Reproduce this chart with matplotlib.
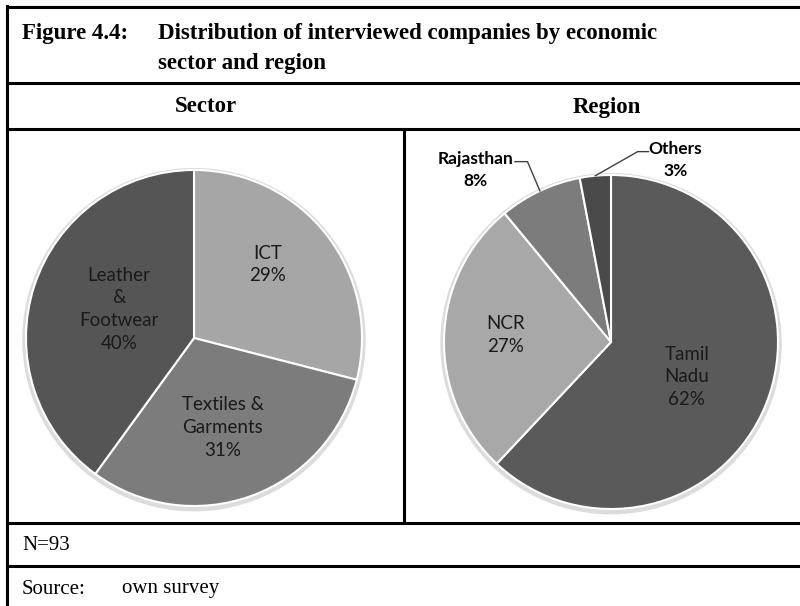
import numpy as np
import matplotlib
matplotlib.use("Agg")
import matplotlib.pyplot as plt


# =========================
# Data
# =========================

SECTOR_LABELS = ["ICT", "Textiles &\nGarments", "Leather\n&\nFootwear"]
SECTOR_SHARES = [29, 31, 40]
SECTOR_COLORS = ["#a6a6a6", "#7c7c7c", "#555555"]

REGION_LABELS = ["Tamil\nNadu", "NCR", "Rajasthan", "Others"]
REGION_SHARES = [62, 27, 8, 3]
REGION_COLORS = ["#5a5a5a", "#a8a8a8", "#7c7c7c", "#4a4a4a"]

N_TOTAL = 93

W, H = 800, 606
SERIF = "Liberation Serif"
LABEL_FONT = ["Lato", "DejaVu Sans"]


def px_axes(fig, cx, cy, r):
    """Axes whose [-1, 1] box covers a circle of radius r (pixels) at (cx, cy)."""
    ax = fig.add_axes([(cx - r) / W, (H - cy - r) / H, 2 * r / W, 2 * r / H])
    ax.axis("off")
    return ax


def draw_pie(ax, shares, colors):
    # faint halo like the original shadow
    ax.add_patch(plt.Circle((0, -0.01), 1.018, color="#dcdcdc", zorder=0,
                            clip_on=False))
    wedges, _ = ax.pie(shares, colors=colors, startangle=90, counterclock=False,
                       radius=1.0,
                       wedgeprops=dict(edgecolor="white", linewidth=1.5))
    # pie() widens the limits, put them back so the circle fills the box
    ax.set_xlim(-1, 1)
    ax.set_ylim(-1, 1)
    ax.set_aspect("equal")
    return wedges


def inside_label(ax, wedge, text, r, turn=0.0):
    mid = np.deg2rad((wedge.theta1 + wedge.theta2) / 2 + turn)
    ax.text(r * np.cos(mid), r * np.sin(mid), text, ha="center", va="center",
            fontsize=13.5, color="#1a1a1a", family=LABEL_FONT, linespacing=1.4)


def main():
    fig = plt.figure(figsize=(W / 100, H / 100), dpi=100)

    # table frame in pixel coordinates
    frame = fig.add_axes([0, 0, 1, 1])
    frame.set_xlim(0, W)
    frame.set_ylim(H, 0)
    frame.axis("off")

    lw = 2.2
    for y in [7, 83, 129, 523, 566]:
        frame.plot([7, W + 5], [y, y], color="black", lw=lw, solid_capstyle="butt")
    frame.plot([7, 7], [6, H + 5], color="black", lw=lw)
    frame.plot([404, 404], [129, 523], color="black", lw=lw)

    # title
    frame.text(22, 33, "Figure 4.4:", family=SERIF, weight="bold", fontsize=16.5,
               va="center", ha="left")
    frame.text(158, 33, "Distribution of interviewed companies by economic",
               family=SERIF, weight="bold", fontsize=16.5, va="center", ha="left")
    frame.text(158, 63, "sector and region", family=SERIF, weight="bold",
               fontsize=16.5, va="center", ha="left")

    frame.text(206, 107, "Sector", family=SERIF, weight="bold", fontsize=16.5,
               va="center", ha="center")
    frame.text(607, 107, "Region", family=SERIF, weight="bold", fontsize=16.5,
               va="center", ha="center")

    frame.text(22, 545, f"N={N_TOTAL}", family=SERIF, fontsize=15,
               va="center", ha="left")
    frame.text(22, 589, "Source:", family=SERIF, fontsize=15, va="center", ha="left")
    frame.text(122, 589, "own survey", family=SERIF, fontsize=15,
               va="center", ha="left")

    # =========================
    # Sector pie
    # =========================
    ax1 = px_axes(fig, 194, 338, 168)
    wedges = draw_pie(ax1, SECTOR_SHARES, SECTOR_COLORS)
    sector_pos = [(0.62, 7), (0.56, -2), (0.48, -3)]
    for w, lab, v, (r, turn) in zip(wedges, SECTOR_LABELS, SECTOR_SHARES, sector_pos):
        inside_label(ax1, w, f"{lab}\n{v}%", r, turn)

    # =========================
    # Region pie
    # =========================
    ax2 = px_axes(fig, 611, 342, 167)
    wedges = draw_pie(ax2, REGION_SHARES, REGION_COLORS)
    inside_label(ax2, wedges[0], f"{REGION_LABELS[0]}\n{REGION_SHARES[0]}%", 0.5, -3)
    inside_label(ax2, wedges[1], f"{REGION_LABELS[1]}\n{REGION_SHARES[1]}%", 0.63, -2)

    # outside labels with leader lines
    outside = [
        (wedges[2], REGION_LABELS[2], REGION_SHARES[2], (-0.50, 1.08), (-0.575, 1.08), (-0.81, 1.03)),
        (wedges[3], REGION_LABELS[3], REGION_SHARES[3], (0.16, 1.14), (0.225, 1.14), (0.385, 1.09)),
    ]
    for w, lab, v, bend, end, txt in outside:
        mid = np.deg2rad((w.theta1 + w.theta2) / 2)
        x0, y0 = np.cos(mid), np.sin(mid)
        ax2.plot([x0, bend[0], end[0]], [y0, bend[1], end[1]], color="#404040",
                 lw=1.0, clip_on=False)
        ax2.text(txt[0], txt[1], f"{lab}\n{v}%", ha="center", va="center",
                 fontsize=12.5, color="black", weight="bold", family=LABEL_FONT,
                 linespacing=1.45)

    fig.savefig("out.png", dpi=100)
    plt.close(fig)


if __name__ == "__main__":
    main()
